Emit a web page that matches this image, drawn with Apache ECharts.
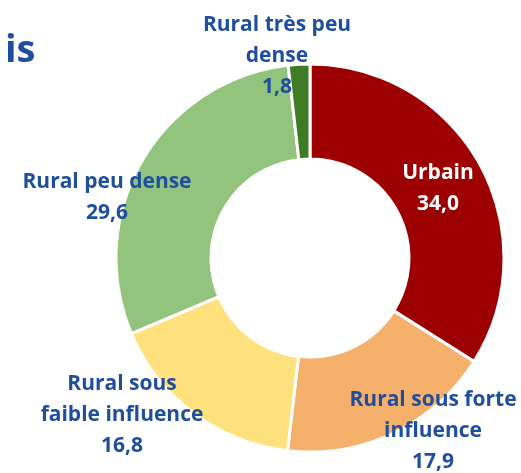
<!DOCTYPE html>
<html lang="fr" style="height: 100%">
<head>
  <meta charset="utf-8">
</head>
<body style="height: 100%; margin: 0; background: #fff">
  <div id="container" style="width: 521px; height: 473px"></div>

  <script type="text/javascript" src="https://cdn.jsdelivr.net/npm/echarts@6/dist/echarts.min.js"></script>
  <script type="text/javascript">
    var categories = [
      'Urbain',
      'Rural sous forte\ninfluence',
      'Rural sous\nfaible influence',
      'Rural peu dense',
      'Rural très peu\ndense'
    ];
    var values = [34.0, 17.9, 16.8, 29.6, 1.8];
    var colors = ['#9c0000', '#f5b06b', '#ffe17d', '#93c47d', '#3f7a25'];

    // where each label sits (center of the text block)
    var labelPos = [
      [438, 189],
      [433, 431],
      [122, 415],
      [107, 198],
      [277, 56]
    ];

    var dom = document.getElementById('container');
    var myChart = echarts.init(dom, null, { renderer: 'canvas' });

    var option = {
      animation: false,
      title: {
        text: 'is',
        left: 0,
        top: 27,
        textStyle: {
          fontFamily: 'Open Sans',
          fontWeight: 'bold',
          fontSize: 38,
          color: '#1f4e9f'
        }
      },
      series: [
        {
          type: 'pie',
          center: [310, 258],
          radius: [99, 194],
          startAngle: 90,
          clockwise: true,
          avoidLabelOverlap: false,
          itemStyle: {
            borderColor: '#fff',
            borderWidth: 3
          },
          label: {
            show: true,
            position: 'outside',
            overflow: 'none',
            formatter: function (p) {
              return p.name + '\n' + p.value.toFixed(1).replace('.', ',');
            },
            fontFamily: 'Open Sans',
            fontWeight: 'bold',
            fontSize: 21,
            lineHeight: 31,
            align: 'center',
            color: '#1f4e9f'
          },
          labelLine: { show: false },
          labelLayout: function (params) {
            var p = labelPos[params.dataIndex];
            return {
              x: p[0],
              y: p[1],
              align: 'center',
              verticalAlign: 'middle',
              hideOverlap: false,
              moveOverlap: null
            };
          },
          data: categories.map(function (c, i) {
            var d = { name: c, value: values[i], itemStyle: { color: colors[i] } };
            if (i === 0) d.label = { color: '#fff' };
            return d;
          })
        }
      ]
    };

    myChart.setOption(option);
    window.addEventListener('resize', myChart.resize);
  </script>
</body>
</html>
